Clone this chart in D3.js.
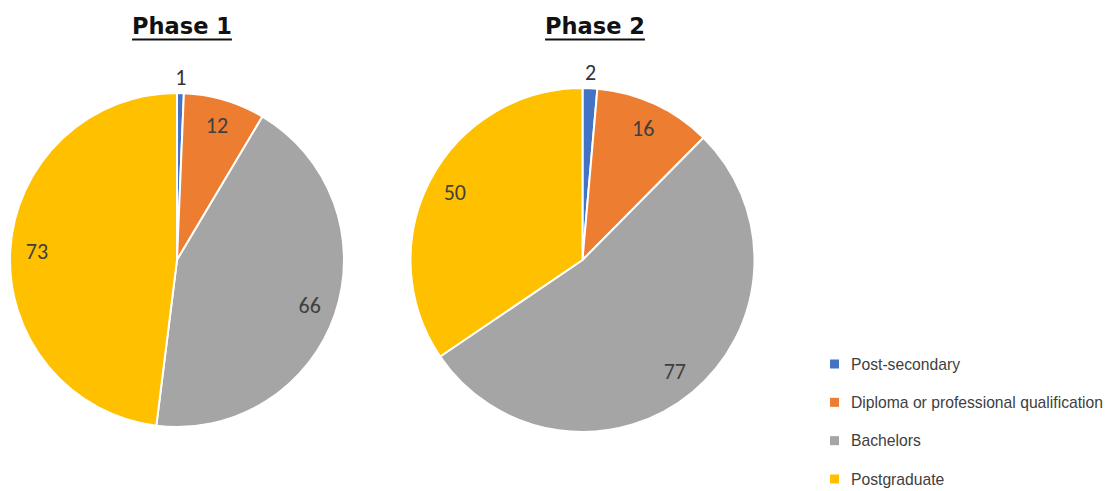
<!DOCTYPE html>
<html>
<head>
<meta charset="utf-8">
<script src="https://cdn.jsdelivr.net/npm/d3@7"></script>
<style>
  html, body { margin: 0; padding: 0; background: #fff; }
  svg { display: block; }
</style>
</head>
<body>
<svg id="chart" width="1113" height="491"></svg>
<script>
// Qualification categories, shared by both pies and the legend
const categories = ["Post-secondary", "Diploma or professional qualification", "Bachelors", "Postgraduate"];
const colors = ["#4472C4", "#ED7D31", "#A5A5A5", "#FFC000"];

// Respondent counts per phase
const phase1Values = [1, 12, 66, 73];
const phase2Values = [2, 16, 77, 50];
const phaseTitles = ["Phase 1", "Phase 2"];

const svg = d3.select("#chart");

const pies = [
  { title: phaseTitles[0], values: phase1Values, cx: 177, cy: 260, r: 167, titleX: 182 },
  { title: phaseTitles[1], values: phase2Values, cx: 582.5, cy: 260, r: 172, titleX: 595 }
];

const color = d3.scaleOrdinal().domain(categories).range(colors);
const pieLayout = d3.pie().sort(null).value(d => d.value);

pies.forEach(p => {
  const data = categories.map((c, i) => ({ cat: c, value: p.values[i] }));
  const arcs = pieLayout(data);
  const arc = d3.arc().innerRadius(0).outerRadius(p.r);
  const labelArc = d3.arc().innerRadius(p.r * 0.84).outerRadius(p.r * 0.84);
  const outerArc = d3.arc().innerRadius(p.r + 16).outerRadius(p.r + 16);

  const g = svg.append("g").attr("transform", `translate(${p.cx},${p.cy})`);

  g.selectAll("path")
    .data(arcs)
    .join("path")
    .attr("d", arc)
    .attr("fill", d => color(d.data.cat))
    .attr("stroke", "#fff")
    .attr("stroke-width", 2)
    .attr("stroke-linejoin", "round");

  g.selectAll("text.val")
    .data(arcs)
    .join("text")
    .attr("class", "val")
    .attr("transform", d => {
      const small = (d.endAngle - d.startAngle) < 0.15;
      const [x, y] = (small ? outerArc : labelArc).centroid(d);
      return `translate(${x},${y})`;
    })
    .attr("text-anchor", "middle")
    .attr("dominant-baseline", "central")
    .attr("font-family", "Carlito, Lato, 'Open Sans', sans-serif")
    .attr("font-size", 22)
    .attr("fill", d => (d.endAngle - d.startAngle) < 0.15 ? "#333" : "#404040")
    .text(d => d.data.value);

  // Underlined bold title above each pie
  const t = svg.append("text")
    .attr("x", p.titleX)
    .attr("y", 34)
    .attr("text-anchor", "middle")
    .attr("font-family", "'DejaVu Sans', sans-serif")
    .attr("font-weight", "bold")
    .attr("font-size", 22.5)
    .attr("fill", "#111")
    .text(p.title);
  const bb = t.node().getBBox();
  svg.append("line")
    .attr("x1", bb.x).attr("x2", bb.x + bb.width)
    .attr("y1", 39.5).attr("y2", 39.5)
    .attr("stroke", "#111").attr("stroke-width", 2);
});

// Legend
const legendY = d3.scalePoint().domain(categories).range([364, 479]);
const legend = svg.append("g");
const items = legend.selectAll("g")
  .data(categories)
  .join("g")
  .attr("transform", d => `translate(830,${legendY(d)})`);
items.append("rect")
  .attr("x", 0).attr("y", -4.5)
  .attr("width", 9).attr("height", 9)
  .attr("fill", d => color(d));
items.append("text")
  .attr("x", 21).attr("y", 0)
  .attr("dominant-baseline", "central")
  .attr("font-family", "'Liberation Sans', Arial, sans-serif")
  .attr("font-size", 15.7)
  .attr("fill", "#404040")
  .text(d => d);
</script>
</body>
</html>
